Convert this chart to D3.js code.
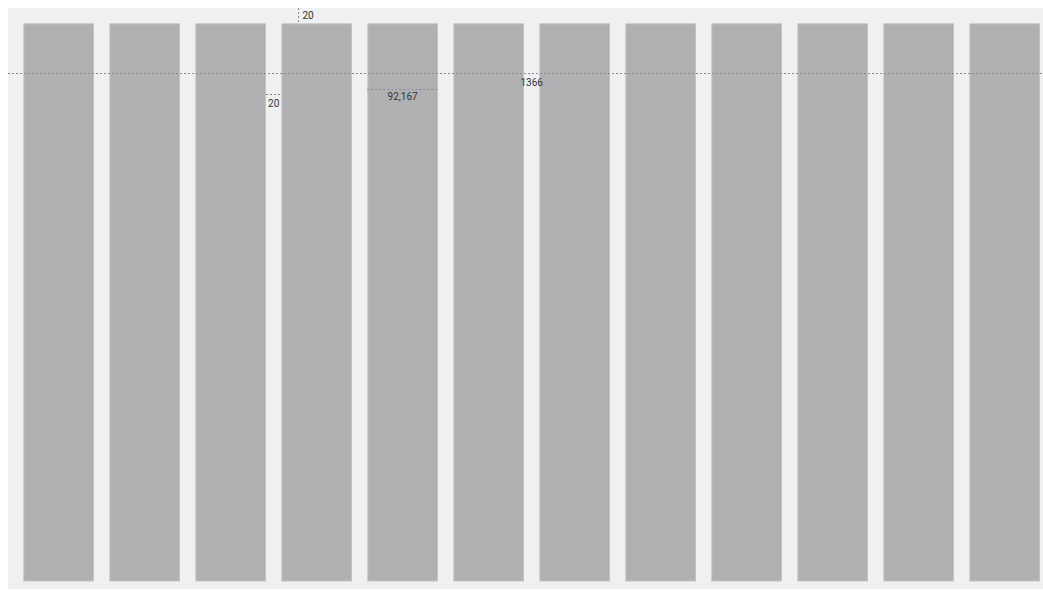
<!DOCTYPE html>
<html>
<head>
<meta charset="utf-8">
<script src="https://cdn.jsdelivr.net/npm/d3@7"></script>
<style>
  html, body { margin: 0; padding: 0; background: #fff; overflow: hidden; }
  svg { display: block; font-family: Roboto, "Noto Sans", sans-serif; }
</style>
</head>
<body>
<svg id="grid" width="1043" height="591"></svg>
<script>
// layout grid, in design units
const columns = [1, 2, 3, 4, 5, 6, 7, 8, 9, 10, 11, 12];
const screenWidth = 1366;
const screenHeight = 758;
const margin = 20;
const gutter = 20;
const columnWidth = 92.167;
const bottomMargin = 10;

// annotations: label text and which measure they show
const annotations = [
  { label: '20', kind: 'margin' },
  { label: '20', kind: 'gutter' },
  { label: '92,167', kind: 'column' },
  { label: '1366', kind: 'width' },
];

const scale = 0.7667;
const x = d3.scaleLinear().domain([0, screenWidth]).range([8, 8 + screenWidth * scale]);
const y = d3.scaleLinear().domain([0, screenHeight]).range([8, 8 + screenHeight * scale]);
const colX = d3.scaleBand()
  .domain(columns)
  .range([x(margin), x(screenWidth - margin)])
  .paddingInner(gutter / (columnWidth + gutter))
  .paddingOuter(0);

const svg = d3.select('#grid');

svg.append('rect')
  .attr('x', x(0))
  .attr('y', y(0))
  .attr('width', x(screenWidth) - x(0))
  .attr('height', y(screenHeight) - y(0))
  .attr('fill', '#eff0f2');

svg.append('g')
  .selectAll('rect')
  .data(columns)
  .join('rect')
  .attr('x', d => colX(d) + 0.5)
  .attr('y', y(margin) + 0.5)
  .attr('width', colX.bandwidth() - 1)
  .attr('height', y(screenHeight - bottomMargin) - y(margin) - 1)
  .attr('fill', '#b0b0b2')
  .attr('stroke', '#c4c4c6')
  .attr('stroke-width', 1);

const dash = { stroke: '#8c8c8e', 'stroke-width': 1, 'stroke-dasharray': '2,2' };
const line = (g, x1, y1, x2, y2) => {
  const l = g.append('line').attr('x1', x1).attr('y1', y1).attr('x2', x2).attr('y2', y2);
  Object.entries(dash).forEach(([k, v]) => l.attr(k, v));
};

const ann = svg.append('g');
const text = (t, tx, ty, anchor) => ann.append('text')
  .attr('x', tx).attr('y', ty)
  .attr('text-anchor', anchor || 'start')
  .attr('font-size', 10)
  .attr('fill', '#333')
  .text(t);

annotations.forEach(a => {
  if (a.kind === 'margin') {
    const lx = Math.round(x(margin + 3 * (columnWidth + gutter) + 21.5)) + 0.5;
    line(ann, lx, y(0), lx, y(margin));
    text(a.label, lx + 4, y(margin) - 4);
  } else if (a.kind === 'gutter') {
    const gy = Math.round(y(112)) + 0.5;
    const x1 = colX(3) + colX.bandwidth();
    line(ann, x1, gy, colX(4), gy);
    text(a.label, (x1 + colX(4)) / 2, gy + 12, 'middle');
  } else if (a.kind === 'column') {
    const cy = Math.round(y(105)) + 0.5;
    line(ann, colX(5), cy, colX(5) + colX.bandwidth(), cy);
    text(a.label, colX(5) + colX.bandwidth() / 2, cy + 10.5, 'middle');
  } else if (a.kind === 'width') {
    const wy = Math.round(y(85)) + 0.5;
    line(ann, x(0), wy, x(screenWidth), wy);
    text(a.label, x(screenWidth / 2), wy + 12, 'middle');
  }
});
</script>
</body>
</html>
